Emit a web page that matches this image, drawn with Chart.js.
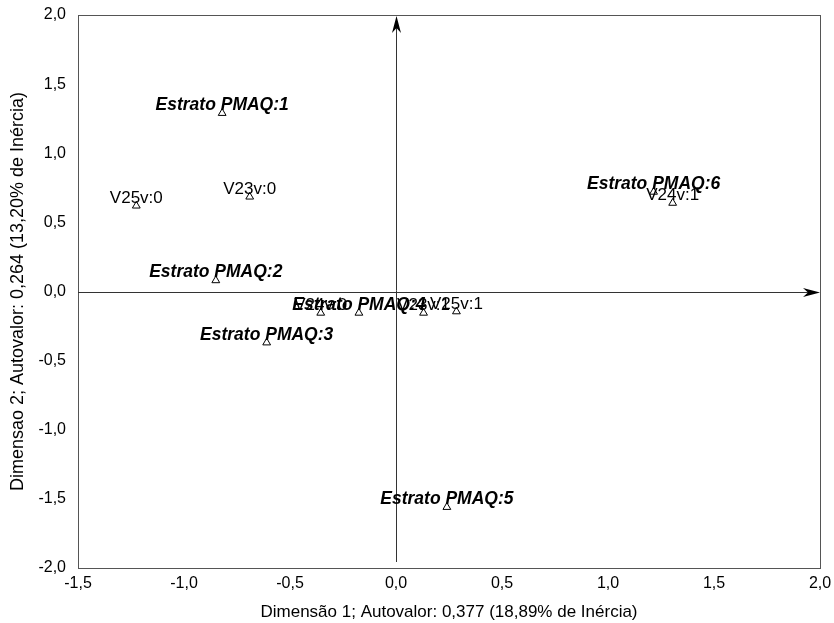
<!DOCTYPE html>
<html>
<head>
<meta charset="utf-8">
<script src="https://cdn.jsdelivr.net/npm/chart.js@4.4.0/dist/chart.umd.min.js"></script>
<style>
html,body{margin:0;padding:0;background:#fff;}
#wrap{width:834px;height:623px;}
</style>
</head>
<body>
<div id="wrap"><canvas id="c" width="834" height="623"></canvas></div>
<script>
const strataLabels = ['Estrato PMAQ:1','Estrato PMAQ:2','Estrato PMAQ:3','Estrato PMAQ:4','Estrato PMAQ:5','Estrato PMAQ:6'];
const strataX = [-0.82, -0.85, -0.61, -0.175, 0.24, 1.215];
const strataY = [1.29, 0.08, -0.37, -0.155, -1.56, 0.72];
const varLabels = ['V23v:0','V23v:1','V24v:0','V24v:1','V25v:0','V25v:1'];
const varX = [-0.69, 0.13, -0.355, 1.305, -1.225, 0.285];
const varY = [0.685, -0.155, -0.155, 0.64, 0.62, -0.145];
const xTicks = [-1.5, -1.0, -0.5, 0.0, 0.5, 1.0, 1.5, 2.0];
const yTicks = [-2.0, -1.5, -1.0, -0.5, 0.0, 0.5, 1.0, 1.5, 2.0];
const xTitle = 'Dimensão 1; Autovalor: 0,377 (18,89% de Inércia)';
const yTitle = 'Dimensao 2; Autovalor: 0,264 (13,20% de Inércia)';

const fmt = v => v.toFixed(1).replace('.', ',');
const FONT = "'Liberation Sans', Arial, sans-serif";

const labelPlugin = {
  id: 'pointLabels',
  afterDatasetsDraw(chart) {
    const ctx = chart.ctx;
    ctx.save();
    ctx.textAlign = 'center';
    ctx.textBaseline = 'alphabetic';
    chart.data.datasets.forEach((ds, di) => {
      const meta = chart.getDatasetMeta(di);
      ctx.font = ds.labelFont;
      ctx.fillStyle = '#000';
      meta.data.forEach((pt, i) => {
        ctx.fillText(ds.pointNames[i], pt.x, pt.y - 3);
      });
    });
    ctx.restore();
  }
};

const axesPlugin = {
  id: 'axesArrows',
  beforeDatasetsDraw(chart) {
    const ctx = chart.ctx;
    const a = chart.chartArea;
    const xs = chart.scales.x, ys = chart.scales.y;
    const x0 = Math.round(xs.getPixelForValue(0)) + 0.5;
    const y0 = Math.round(ys.getPixelForValue(0)) + 0.5;
    ctx.save();
    ctx.strokeStyle = '#555';
    ctx.lineWidth = 1;
    ctx.strokeRect(Math.round(a.left) + 0.5, Math.round(a.top) + 0.5, Math.round(a.right - a.left), Math.round(a.bottom - a.top));
    ctx.strokeStyle = '#333';
    ctx.beginPath();
    ctx.moveTo(a.left, y0);
    ctx.lineTo(a.right - 4, y0);
    ctx.stroke();
    ctx.beginPath();
    ctx.moveTo(x0, a.bottom - 6);
    ctx.lineTo(x0, a.top + 4);
    ctx.stroke();
    ctx.fillStyle = '#000';
    ctx.beginPath();
    ctx.moveTo(a.right, y0);
    ctx.lineTo(a.right - 17, y0 - 4.5);
    ctx.lineTo(a.right - 12, y0);
    ctx.lineTo(a.right - 17, y0 + 4.5);
    ctx.closePath();
    ctx.fill();
    ctx.beginPath();
    ctx.moveTo(x0, a.top + 1);
    ctx.lineTo(x0 - 4.5, a.top + 18);
    ctx.lineTo(x0, a.top + 13);
    ctx.lineTo(x0 + 4.5, a.top + 18);
    ctx.closePath();
    ctx.fill();
    ctx.restore();
  }
};

new Chart(document.getElementById('c'), {
  type: 'scatter',
  data: {
    datasets: [
      {
        label: 'Estrato',
        data: strataX.map((x, i) => ({x, y: strataY[i]})),
        pointNames: strataLabels,
        labelFont: "italic bold 17.5px " + FONT,
        pointStyle: 'triangle',
        pointRadius: 4.5,
        pointBackgroundColor: '#fff',
        pointBorderColor: '#000',
        pointBorderWidth: 1
      },
      {
        label: 'Variáveis',
        data: varX.map((x, i) => ({x, y: varY[i]})),
        pointNames: varLabels,
        labelFont: "17px " + FONT,
        pointStyle: 'triangle',
        pointRadius: 4.5,
        pointBackgroundColor: '#fff',
        pointBorderColor: '#000',
        pointBorderWidth: 1
      }
    ]
  },
  options: {
    responsive: false,
    animation: false,
    devicePixelRatio: 1,
    layout: { padding: { top: 15, right: 14, left: 0, bottom: 0 } },
    plugins: { legend: { display: false }, tooltip: { enabled: false } },
    scales: {
      x: {
        type: 'linear', min: -1.5, max: 2.0,
        afterBuildTicks: s => { s.ticks = xTicks.map(v => ({value: v})); },
        afterFit: s => { s.height = 55; s.paddingLeft = 0; s.paddingRight = 0; },
        grid: { display: false, drawTicks: false },
        border: { display: false },
        ticks: { callback: v => fmt(v), color: '#000', font: { family: FONT, size: 16 }, padding: 6, maxRotation: 0 },
        title: { display: true, text: xTitle, color: '#000', font: { family: FONT, size: 17 }, padding: { top: 3, bottom: 0 } }
      },
      y: {
        type: 'linear', min: -2.0, max: 2.0,
        afterBuildTicks: s => { s.ticks = yTicks.map(v => ({value: v})); },
        afterFit: s => { s.width = 78; s.paddingTop = 0; s.paddingBottom = 0; },
        grid: { display: false, drawTicks: false },
        border: { display: false },
        ticks: { callback: v => fmt(v), color: '#000', font: { family: FONT, size: 16 }, padding: 12 },
        title: { display: true, text: yTitle, color: '#000', font: { family: FONT, size: 18 }, padding: { top: 7, bottom: 0 } }
      }
    }
  },
  plugins: [axesPlugin, labelPlugin]
});
</script>
</body>
</html>
